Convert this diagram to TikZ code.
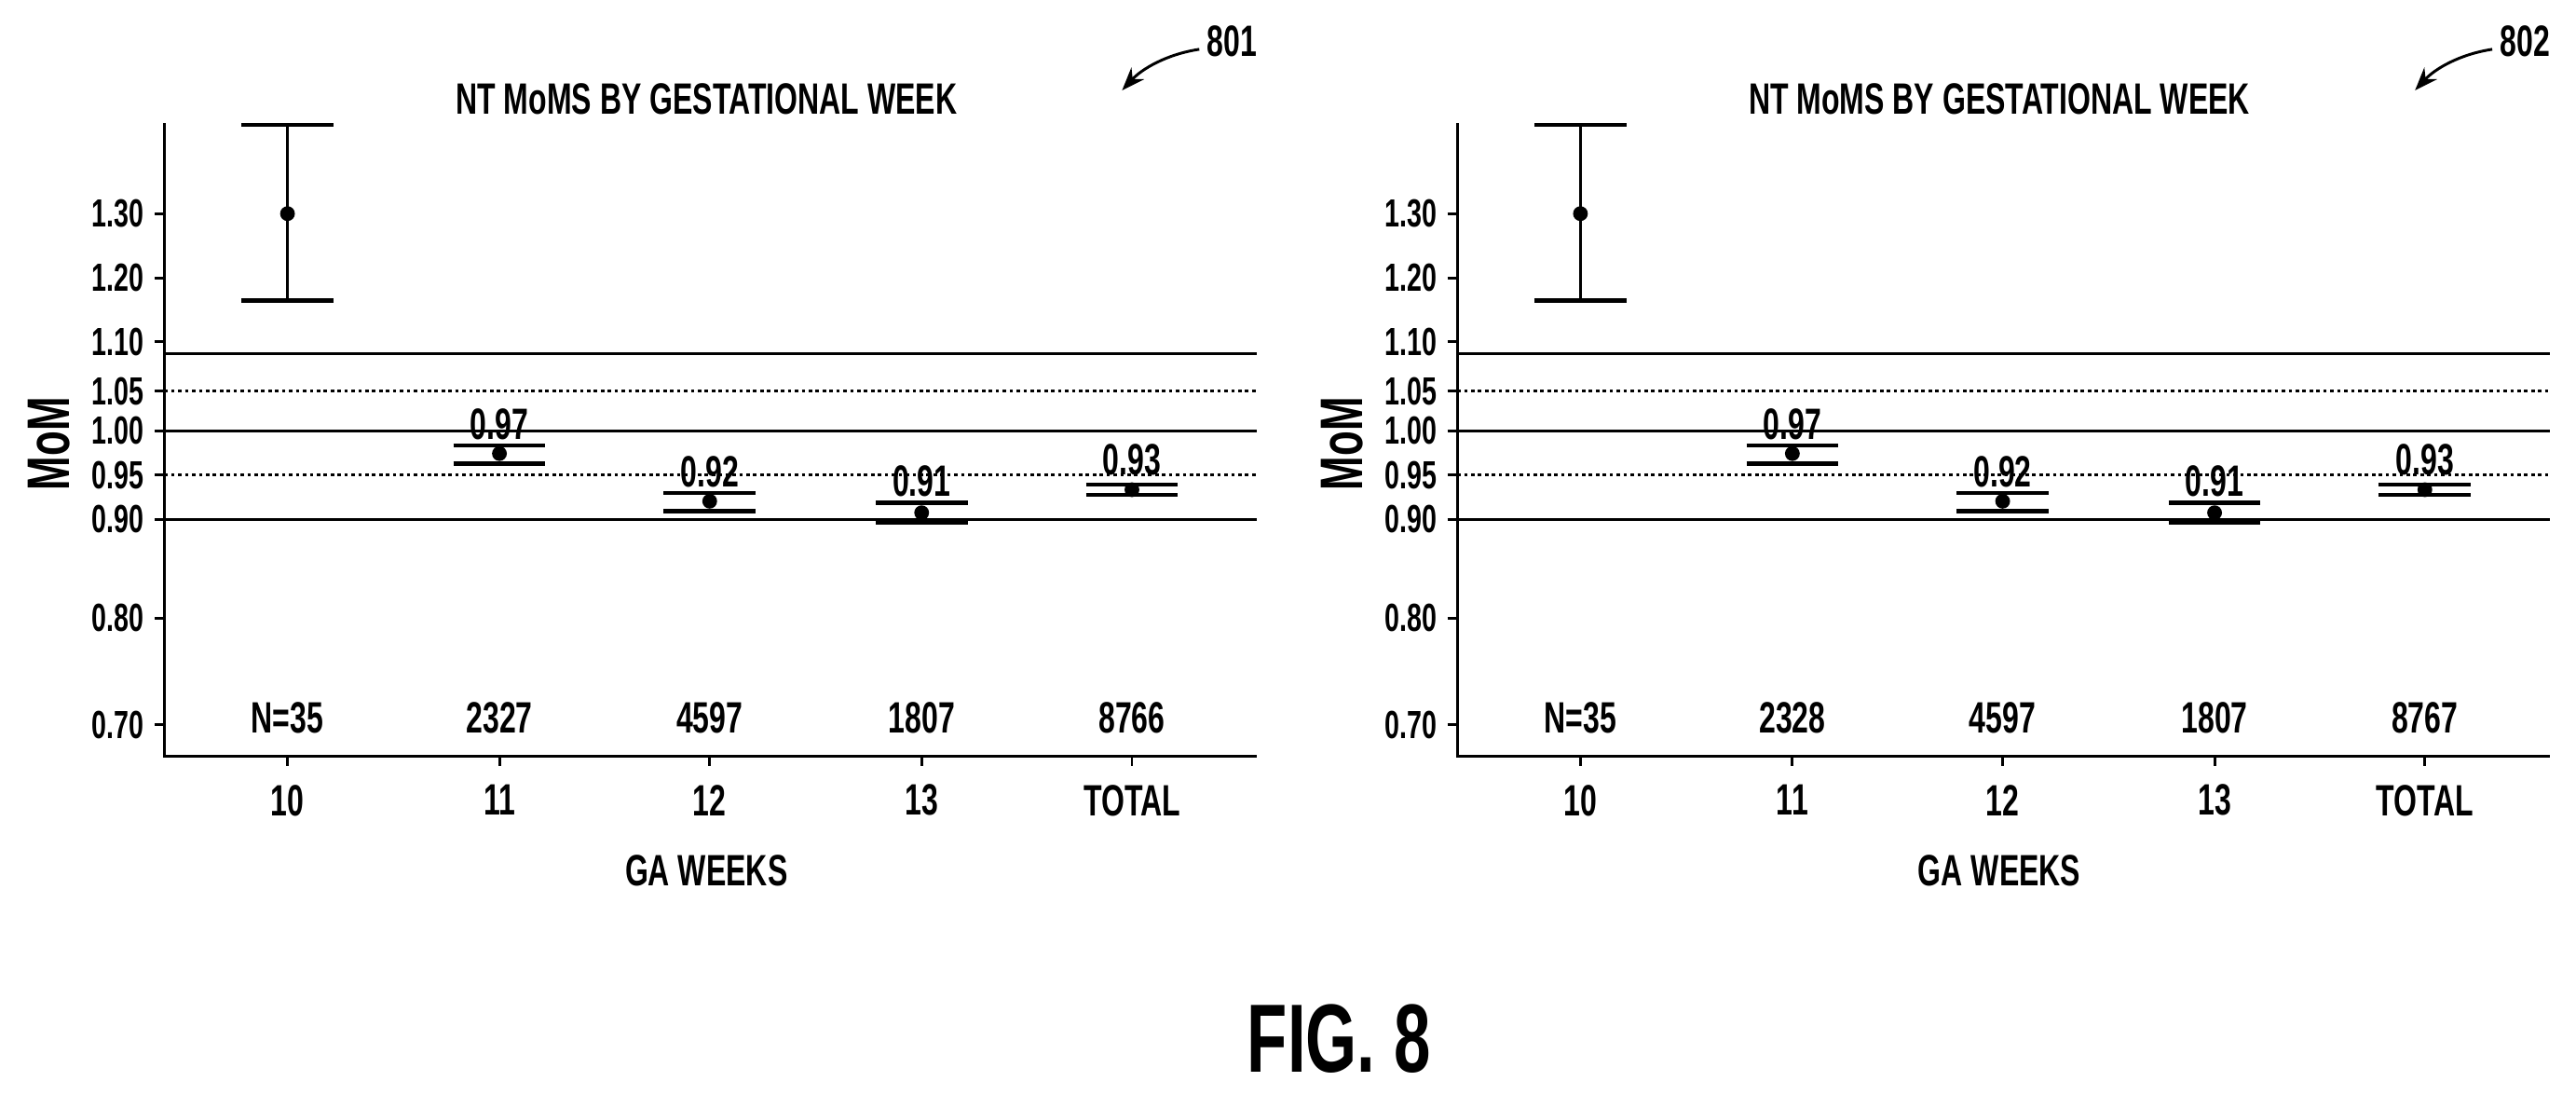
\documentclass[tikz,border=0pt]{standalone}
\usepackage{fontspec}
\setmainfont[FakeStretch=0.68]{Liberation Sans}
\usetikzlibrary{arrows.meta}
\tikzset{lbl/.style={font=\bfseries\fontsize{38}{40}\selectfont},
 tl/.style={font=\bfseries\fontsize{34}{36}\selectfont,anchor=east},
 ln/.style={line width=2.4pt},
 capline/.style={line width=3.6pt}}
\newcommand{\drawpanel}[4]{%
\begin{scope}[xshift=#1*0.05cm]
\draw[ln] (100,75) -- (100,460) -- (765,460);
\foreach \y/\t in {130/1.30,169/1.20,208/1.10,238/1.05,262/1.00,289/0.95,316/0.90,376/0.80,441/0.70}{
 \draw[ln] (94,\y) -- (100,\y); \node[tl] at (90,\y) {\t};}
\foreach \y in {215,262,316} \draw[ln] (100,\y) -- (765,\y);
\foreach \y in {238,289} \draw[ln,dashed] (100,\y) -- (765,\y);
\foreach \x/\t/\n in {175/10/{N=35},304/11/#2,432/12/4597,561/13/1807,689/TOTAL/#3}{
 \draw[ln] (\x,460) -- (\x,466);
 \node[lbl] at (\x,487) {\t};
 \node[lbl] at (\x,437) {\n};}
\node[lbl] (t#1) at (430,60) {NT MoMS BY GESTATIONAL WEEK};
\node[lbl] (g#1) at (430,530) {GA WEEKS};
\node[rotate=90,font=\bfseries\fontsize{52}{54}\selectfont] (m#1) at (30,270) {MoM};
\draw[ln] (175,76) -- (175,183);
\draw[capline] (147,76) -- (203,76); \draw[capline] (147,183) -- (203,183);
\fill (175,130) circle (4.5);
\foreach \x/\p/\a/\b/\v/\ly in {304/276/271/282/0.97/258,432/305/300/311/0.92/287,561/312/306/318/0.91/293,689/298/295/301/0.93/280}{
 \draw[capline] (\x-28,\a) -- (\x+28,\a); \draw[capline] (\x-28,\b) -- (\x+28,\b);
 \fill (\x,\p) circle (4.5);
 \node[lbl] at (\x,\ly) {\v};}
\node[lbl] (r#1) at (750,25) {#4};
\draw[ln,-{Stealth[length=20pt]}] (730,30) .. controls (710,33) and (695,42) .. (683,55);
\end{scope}}
\begin{document}
\begin{tikzpicture}[x=0.05cm,y=-0.05cm]
\useasboundingbox (0,0) rectangle (1568,666);
\drawpanel{0}{2327}{8766}{801}
\drawpanel{787}{2328}{8767}{802}
\node[font=\bfseries\fontsize{84}{86}\selectfont] (fig) at (815,632) {FIG. 8};
\end{tikzpicture}
\end{document}
